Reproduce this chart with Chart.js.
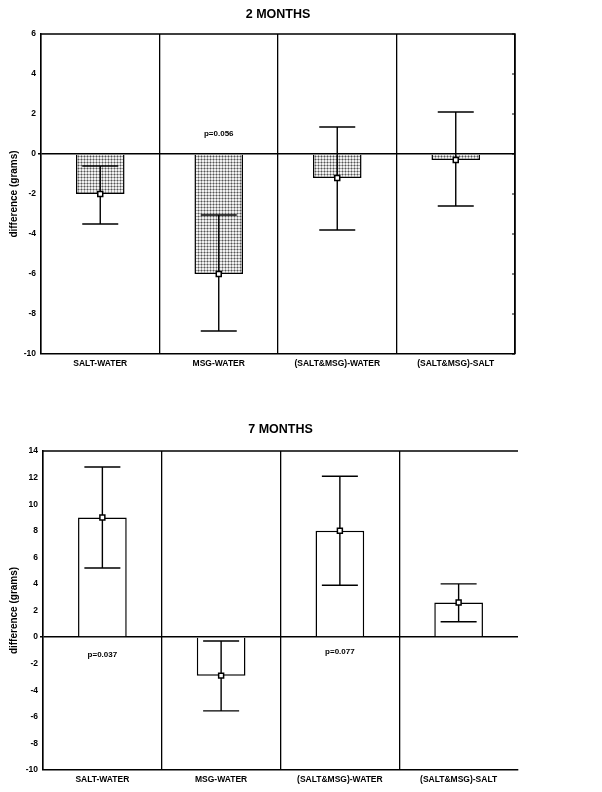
<!DOCTYPE html>
<html>
<head>
<meta charset="utf-8">
<script src="https://cdn.jsdelivr.net/npm/chart.js@4.4.1/dist/chart.umd.min.js"></script>
<style>
    body { margin: 0; background: #fff; width: 602px; height: 792px; position: relative; overflow: hidden; }
    .box { position: absolute; left: 0; width: 602px; }
</style>
</head>
<body>
<div class="box" style="top:0;height:380px"><canvas id="chart-2m" width="602" height="380"></canvas></div>
<div class="box" style="top:395px;height:397px"><canvas id="chart-7m" width="602" height="397"></canvas></div>
<script>
// categories shared by both panels
const categories = ['SALT-WATER', 'MSG-WATER', '(SALT&MSG)-WATER', '(SALT&MSG)-SALT'];

// 2 months
const means2m = [-2.0, -6.0, -1.2, -0.3];
const errLow2m = [-3.5, -8.85, -3.8, -2.6];
const errHigh2m = [-0.6, -3.05, 1.35, 2.1];
const pText2m = [null, 'p=0.056', null, null];
const pAt2m = [null, 1.0, null, null];
const yRange2m = [-10, 6];

// 7 months
const means7m = [9.0, -2.9, 8.0, 2.6];
const errLow7m = [5.2, -5.55, 3.9, 1.15];
const errHigh7m = [12.8, -0.3, 12.1, 4.0];
const pText7m = ['p=0.037', null, 'p=0.077', null];
const pAt7m = [-1.35, null, -1.1, null];
const yRange7m = [-10, 14];

const FONT = '"Liberation Sans", Arial, sans-serif';

// stippled fill for the 2-month bars
function stipple() {
    const c = document.createElement('canvas');
    c.width = 3; c.height = 3;
    const g = c.getContext('2d');
    g.fillStyle = '#f0f0f0';
    g.fillRect(0, 0, 3, 3);
    g.fillStyle = '#a8a8a8';
    g.fillRect(0, 0, 3, 1);
    g.fillRect(0, 0, 1, 3);
    g.fillStyle = '#555';
    g.fillRect(0, 0, 1, 1);
    return g.createPattern(c, 'repeat');
}

const errorBars = {
    id: 'errorBars',
    afterDatasetDraw(chart, args, opts) {
        if (args.index !== 0) return;
        const { ctx, scales: { x, y } } = chart;
        ctx.save();
        ctx.strokeStyle = '#000';
        ctx.lineWidth = 1.4;
        opts.low.forEach((lo, i) => {
            const cx = x.getPixelForValue(i);
            const y1 = y.getPixelForValue(lo);
            const y2 = y.getPixelForValue(opts.high[i]);
            ctx.beginPath();
            ctx.moveTo(cx, y1); ctx.lineTo(cx, y2);
            ctx.moveTo(cx - 18, y1); ctx.lineTo(cx + 18, y1);
            ctx.moveTo(cx - 18, y2); ctx.lineTo(cx + 18, y2);
            ctx.stroke();
        });
        ctx.restore();
    }
};

const frame = {
    id: 'frame',
    afterDraw(chart, args, opts) {
        const { ctx, chartArea: { left, right, top, bottom }, scales: { x, y } } = chart;
        ctx.save();
        ctx.strokeStyle = '#000';
        ctx.lineWidth = 1.5;
        ctx.beginPath();
        ctx.moveTo(left, top);
        ctx.lineTo(right, top);
        if (opts.rightEdge) {
            ctx.lineTo(right, bottom);
        }
        ctx.stroke();
        if (opts.rightEdge) {
            ctx.lineWidth = 1;
            ctx.beginPath();
            y.ticks.forEach(t => {
                const py = y.getPixelForValue(t.value);
                ctx.moveTo(right - 3, py); ctx.lineTo(right, py);
            });
            ctx.stroke();
        }
        ctx.fillStyle = '#000';
        ctx.font = 'bold 8px ' + FONT;
        ctx.textAlign = 'center';
        ctx.textBaseline = 'middle';
        opts.text.forEach((t, i) => {
            if (t) ctx.fillText(t, x.getPixelForValue(i), y.getPixelForValue(opts.at[i]));
        });
        ctx.restore();
    }
};

function makeChart(id, cfg) {
    const ctx = document.getElementById(id).getContext('2d');
    return new Chart(ctx, {
        type: 'bar',
        data: {
            labels: categories,
            datasets: [
                {
                    type: 'bar',
                    data: cfg.means,
                    backgroundColor: cfg.fill,
                    borderColor: '#000',
                    borderWidth: 1.5,
                    barPercentage: 0.41,
                    categoryPercentage: 1.0,
                    order: 2
                },
                {
                    type: 'line',
                    data: cfg.means,
                    showLine: false,
                    pointStyle: 'rect',
                    pointRadius: 3.5,
                    pointBackgroundColor: '#fff',
                    pointBorderColor: '#000',
                    pointBorderWidth: 1.5,
                    order: 1
                }
            ]
        },
        options: {
            responsive: false,
            animation: false,
            layout: { padding: { left: 0, right: cfg.padRight, top: 0, bottom: 0 } },
            plugins: {
                legend: { display: false },
                tooltip: { enabled: false },
                title: {
                    display: true,
                    text: cfg.title,
                    fullSize: false,
                    color: '#000',
                    font: { family: FONT, size: 12.5, weight: 'bold' },
                    padding: cfg.titlePad
                },
                errorBars: { low: cfg.low, high: cfg.high },
                frame: { rightEdge: cfg.rightEdge, text: cfg.pText, at: cfg.pAt }
            },
            scales: {
                x: {
                    afterFit: s => { s.height = cfg.xHeight; },
                    grid: {
                        offset: true,
                        drawTicks: false,
                        lineWidth: 1.3,
                        color: c => (c.index === undefined && !cfg.rightEdge) ? 'rgba(0,0,0,0)' : '#000'
                    },
                    border: { display: true, color: '#000', width: 1.5 },
                    ticks: {
                        color: '#000',
                        padding: 5,
                        font: { family: FONT, size: 8.5, weight: 'bold' }
                    }
                },
                y: {
                    min: cfg.range[0],
                    max: cfg.range[1],
                    afterFit: s => { s.width = cfg.yWidth; },
                    ticks: {
                        stepSize: 2,
                        color: '#000',
                        padding: 2,
                        font: { family: FONT, size: 8.5, weight: 'bold' }
                    },
                    grid: {
                        tickLength: 3,
                        tickColor: '#000',
                        lineWidth: c => (c.tick && c.tick.value === 0) ? 1.5 : 0,
                        color: c => (c.tick && c.tick.value === 0) ? '#000' : 'rgba(0,0,0,0)'
                    },
                    border: { display: true, color: '#000', width: 1.5 },
                    title: {
                        display: true,
                        text: 'difference (grams)',
                        color: '#000',
                        padding: { top: 8, bottom: 0 },
                        font: { family: FONT, size: 10, weight: 'bold' }
                    }
                }
            }
        },
        plugins: [errorBars, frame]
    });
}

makeChart('chart-2m', {
    title: '2 MONTHS',
    means: means2m, low: errLow2m, high: errHigh2m,
    pText: pText2m, pAt: pAt2m,
    range: yRange2m,
    fill: stipple(),
    rightEdge: true,
    padRight: 87,
    titlePad: { top: 7, bottom: 12 },
    xHeight: 26,
    yWidth: 41
});

makeChart('chart-7m', {
    title: '7 MONTHS',
    means: means7m, low: errLow7m, high: errHigh7m,
    pText: pText7m, pAt: pAt7m,
    range: yRange7m,
    fill: '#fff',
    rightEdge: false,
    padRight: 84,
    titlePad: { top: 27, bottom: 14 },
    xHeight: 22,
    yWidth: 43
});
</script>
</body>
</html>
